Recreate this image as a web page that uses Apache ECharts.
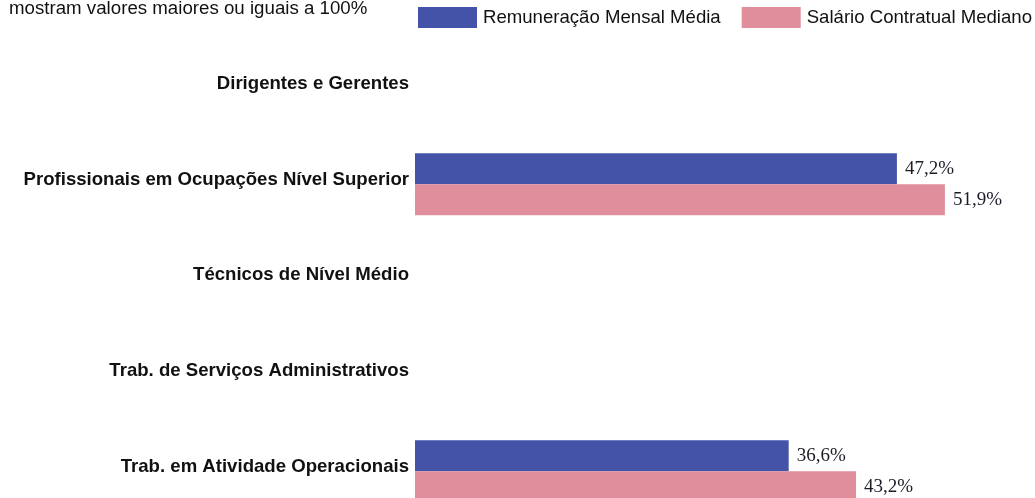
<!DOCTYPE html>
<html>
<head>
<meta charset="utf-8">
<script src="https://cdn.jsdelivr.net/npm/echarts@6/dist/echarts.min.js"></script>
<style>
html,body{margin:0;padding:0;background:#fff;}
#chart{width:1035px;height:498px;}
</style>
</head>
<body>
<div id="chart"></div>
<script>
var categories = [
  'Dirigentes e Gerentes',
  'Profissionais em Ocupações Nível Superior',
  'Técnicos de Nível Médio',
  'Trab. de Serviços Administrativos',
  'Trab. em Atividade Operacionais'
];
var seriesNames = ['Remuneração Mensal Média', 'Salário Contratual Mediano'];
var remuneracaoMedia = [null, 47.2, null, null, 36.6];
var salarioMediano = [null, 51.9, null, null, 43.2];
var noteText = 'mostram valores maiores ou iguais a 100%';

var chart = echarts.init(document.getElementById('chart'));
function fmt(p){ return p.value == null ? '' : p.value.toFixed(1).replace('.', ',') + '%'; }
var labelStyle = {
  show: true, position: 'right', distance: 8,
  formatter: fmt,
  fontFamily: 'Liberation Serif', fontSize: 19, color: '#1c1c28'
};
chart.setOption({
  animation: false,
  backgroundColor: '#ffffff',
  graphic: [{
    type: 'text', left: 9, top: -1,
    style: { text: noteText, font: '18.7px "Liberation Sans", Arial, sans-serif', fill: '#111' }
  }],
  legend: {
    left: 413, top: 2, width: 640,
    itemWidth: 59, itemHeight: 21, itemGap: 21,
    icon: 'rect',
    textStyle: { fontFamily: 'Liberation Sans', fontSize: 18.6, color: '#111', padding: [0,0,0,1] },
    data: seriesNames
  },
  grid: { left: 415, top: 40.6, width: 612.6, height: 478.5, containLabel: false, outerBoundsMode: 'none' },
  xAxis: {
    type: 'value', min: 0, max: 60,
    show: false
  },
  yAxis: {
    type: 'category', inverse: true, data: categories,
    axisLine: { show: false }, axisTick: { show: false }, splitLine: { show: false },
    axisLabel: {
      margin: 6, fontFamily: 'Liberation Sans', fontWeight: 'bold', fontSize: 18.6, color: '#111',
      verticalAlign: 'bottom', lineHeight: 9
    }
  },
  series: [
    { name: seriesNames[0], type: 'bar', data: remuneracaoMedia, barWidth: 31, barGap: '0%',
      itemStyle: { color: '#4453A8' }, label: labelStyle },
    { name: seriesNames[1], type: 'bar', data: salarioMediano, barWidth: 31, barGap: '0%',
      itemStyle: { color: '#E08E9B' }, label: labelStyle }
  ]
});
</script>
</body>
</html>
